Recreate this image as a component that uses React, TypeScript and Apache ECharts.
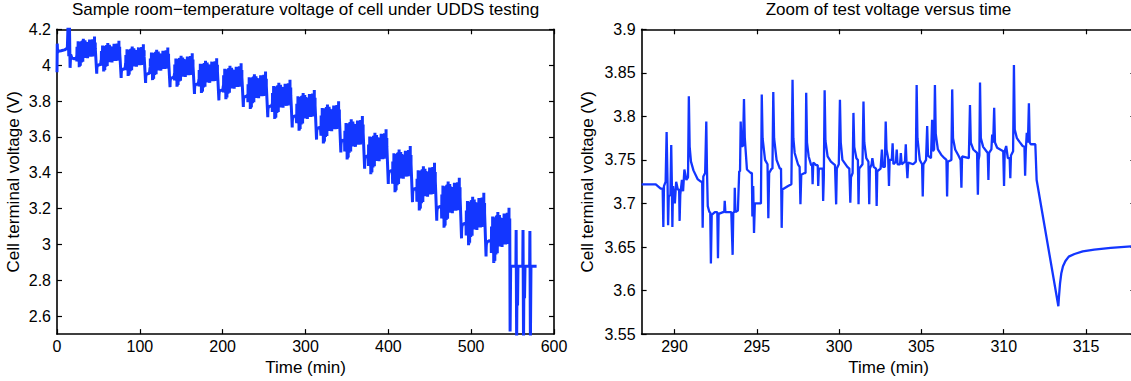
import React, { useEffect, useRef } from "react";
import * as echarts from "echarts";

// ---- Zoomed trace (right panel): one UDDS cycle, [time (min), voltage (V)] ----
const zoomPoints: [number, number][] = [
  [288.0, 3.722], [288.86, 3.722], [289.16, 3.717], [289.28, 3.717], [289.32, 3.673], [289.36, 3.72],
  [289.46, 3.725], [289.52, 3.782], [289.56, 3.74], [289.58, 3.72], [289.61, 3.675], [289.65, 3.708],
  [289.75, 3.71], [289.8, 3.767], [289.84, 3.72], [289.87, 3.673], [289.91, 3.72], [290.02, 3.7],
  [290.1, 3.725], [290.2, 3.716], [290.28, 3.716], [290.31, 3.68], [290.35, 3.71], [290.45, 3.727],
  [290.52, 3.714], [290.6, 3.739], [290.72, 3.727], [290.82, 3.73], [290.87, 3.823], [290.92, 3.765],
  [291.0, 3.748], [291.15, 3.738], [291.4, 3.728], [291.6, 3.725], [291.68, 3.725], [291.71, 3.672],
  [291.75, 3.731], [291.86, 3.735], [291.93, 3.794], [291.97, 3.74], [292.02, 3.697], [292.12, 3.69],
  [292.17, 3.69], [292.21, 3.631], [292.26, 3.687], [292.45, 3.69], [292.6, 3.69], [292.64, 3.637],
  [292.68, 3.688], [292.95, 3.69], [293.02, 3.69], [293.05, 3.703], [293.09, 3.69], [293.45, 3.69],
  [293.53, 3.641], [293.57, 3.69], [293.64, 3.69], [293.66, 3.718], [293.7, 3.69], [293.85, 3.692],
  [293.93, 3.737], [293.98, 3.737], [294.02, 3.794], [294.07, 3.766], [294.16, 3.766], [294.22, 3.82],
  [294.27, 3.775], [294.4, 3.739], [294.63, 3.735], [294.7, 3.735], [294.73, 3.685], [294.78, 3.72],
  [294.83, 3.666], [294.88, 3.7], [295.2, 3.7], [295.25, 3.7], [295.3, 3.825], [295.35, 3.775],
  [295.5, 3.75], [295.65, 3.745], [295.7, 3.683], [295.75, 3.735], [295.9, 3.74], [295.95, 3.74],
  [296.0, 3.828], [296.05, 3.775], [296.2, 3.75], [296.4, 3.74], [296.47, 3.74], [296.51, 3.672],
  [296.55, 3.716], [296.9, 3.72], [297.1, 3.722], [297.17, 3.842], [297.22, 3.775], [297.3, 3.758],
  [297.5, 3.745], [297.6, 3.742], [297.65, 3.699], [297.7, 3.733], [297.9, 3.735], [297.96, 3.735],
  [298.0, 3.827], [298.05, 3.77], [298.15, 3.754], [298.3, 3.744], [298.36, 3.744], [298.39, 3.722],
  [298.43, 3.747], [298.6, 3.744], [298.7, 3.744], [298.73, 3.72], [298.77, 3.74], [298.95, 3.74],
  [299.0, 3.74], [299.03, 3.703], [299.07, 3.73], [299.12, 3.83], [299.17, 3.772], [299.3, 3.754],
  [299.5, 3.748], [299.75, 3.744], [299.82, 3.699], [299.86, 3.74], [299.98, 3.745], [300.05, 3.819],
  [300.1, 3.77], [300.2, 3.75], [300.5, 3.742], [300.62, 3.74], [300.68, 3.701], [300.72, 3.73],
  [300.82, 3.735], [300.87, 3.804], [300.92, 3.765], [301.05, 3.752], [301.14, 3.75], [301.18, 3.699],
  [301.22, 3.74], [301.42, 3.745], [301.48, 3.817], [301.53, 3.77], [301.65, 3.752], [301.78, 3.748],
  [301.83, 3.699], [301.87, 3.74], [301.97, 3.745], [302.02, 3.752], [302.1, 3.742], [302.24, 3.74],
  [302.28, 3.697], [302.32, 3.737], [302.52, 3.74], [302.6, 3.762], [302.66, 3.742], [302.78, 3.742],
  [302.83, 3.794], [302.88, 3.762], [302.98, 3.752], [303.03, 3.72], [303.07, 3.75], [303.2, 3.75],
  [303.25, 3.769], [303.3, 3.745], [303.45, 3.748], [303.5, 3.762], [303.55, 3.745], [303.7, 3.745],
  [303.75, 3.758], [303.8, 3.745], [304.0, 3.748], [304.05, 3.768], [304.1, 3.745], [304.15, 3.729],
  [304.2, 3.747], [304.5, 3.745], [304.66, 3.748], [304.71, 3.836], [304.76, 3.775], [304.9, 3.75],
  [305.04, 3.745], [305.08, 3.708], [305.12, 3.745], [305.28, 3.75], [305.35, 3.789], [305.4, 3.755],
  [305.58, 3.752], [305.65, 3.796], [305.7, 3.76], [305.77, 3.762], [305.82, 3.836], [305.87, 3.78],
  [306.0, 3.762], [306.2, 3.756], [306.4, 3.752], [306.52, 3.75], [306.56, 3.708], [306.6, 3.748],
  [306.82, 3.75], [306.87, 3.831], [306.92, 3.775], [307.05, 3.762], [307.25, 3.755], [307.38, 3.75],
  [307.43, 3.718], [307.47, 3.754], [307.88, 3.752], [307.95, 3.813], [308.0, 3.77], [308.15, 3.762],
  [308.38, 3.758], [308.43, 3.71], [308.47, 3.75], [308.52, 3.755], [308.56, 3.839], [308.61, 3.775],
  [308.75, 3.765], [308.95, 3.76], [309.03, 3.758], [309.07, 3.727], [309.11, 3.758], [309.25, 3.762],
  [309.3, 3.779], [309.36, 3.77], [309.42, 3.81], [309.47, 3.77], [309.6, 3.764], [309.97, 3.76],
  [310.02, 3.72], [310.06, 3.76], [310.15, 3.766], [310.25, 3.752], [310.36, 3.752], [310.4, 3.729],
  [310.44, 3.755], [310.57, 3.76], [310.62, 3.859], [310.67, 3.785], [310.8, 3.775], [310.95, 3.771],
  [311.15, 3.766], [311.26, 3.765], [311.3, 3.732], [311.34, 3.76], [311.4, 3.781], [311.47, 3.77],
  [311.53, 3.815], [311.58, 3.77], [311.64, 3.768], [311.92, 3.768], [312.0, 3.727], [313.32, 3.582],
  [313.36, 3.594], [313.42, 3.608], [313.5, 3.62], [313.6, 3.628], [313.75, 3.634], [313.95, 3.639],
  [314.3, 3.642], [314.8, 3.645], [315.5, 3.647], [316.5, 3.649], [318.0, 3.651],
];
const cycleStartTime = 289.16; // first sample of the zoomed cycle
const cycleEndTime = 311.95; // last sample before the post-cycle drop

// ---- Full test (left panel) ----
const startTime = [0, 0.3, 0.7, 1.5, 5, 9, 12.5, 13.5, 14.2, 15.0, 15.8, 16.5, 18, 21, 23.6];
const startVolt = [3.96, 4.12, 4.07, 4.078, 4.08, 4.085, 4.095, 4.25, 4.05, 4.23, 3.985, 4.06, 4.04, 4.035, 4.04];
// start time of each UDDS cycle, highest voltage reached in it, relative swing vs the zoomed cycle
const blockStart = [23.8, 53.3, 82.8, 112.3, 141.8, 171.3, 200.8, 230.3, 259.8, 289.16, 318.5, 347.2, 375.8, 405.0, 434.3, 464.2, 493.8, 524.2];
const blockTop = [4.16, 4.136, 4.117, 4.099, 4.067, 4.039, 4.011, 3.965, 3.918, 3.862, 3.798, 3.716, 3.642, 3.549, 3.456, 3.372, 3.288, 3.204];
const blockGain = [0.75, 0.75, 0.78, 0.8, 0.82, 0.85, 0.88, 0.92, 0.96, 1.0, 1.03, 1.06, 1.1, 1.13, 1.17, 1.22, 1.28, 1.35];
const tailTime = [547.0, 547.7, 554.0, 554.3, 554.9, 555.5, 556.0, 556.5, 562.3, 562.6, 563.2, 563.8, 564.4, 565.0, 570.6, 570.9, 571.5, 572.2, 579.0];
const tailVolt = [2.515, 2.878, 2.878, 3.08, 2.45, 2.878, 2.66, 2.878, 2.878, 3.08, 2.45, 2.878, 2.7, 2.878, 2.878, 3.075, 2.45, 2.878, 2.878];

// ---- Tick values ----
const leftXTicks = [0, 100, 200, 300, 400, 500, 600];
const leftYTicks = [2.6, 2.8, 3, 3.2, 3.4, 3.6, 3.8, 4, 4.2];
const rightXTicks = [290, 295, 300, 305, 310, 315];
const rightYTicks = [3.55, 3.6, 3.65, 3.7, 3.75, 3.8, 3.85, 3.9];

const titles = ["Sample room\u2212temperature voltage of cell under UDDS testing", "Zoom of test voltage versus time"];
const xName = "Time (min)";
const yName = "Cell terminal voltage (V)";

const FONT = "Liberation Sans";
const LINE = "#1336ff";

function buildFull(): number[][] {
  const pts: number[][] = startTime.map((t, i) => [t, startVolt[i]]);
  const pMax = Math.max(...zoomPoints.map((p) => p[1]));
  blockStart.forEach((s, k) => {
    const last = k === blockStart.length - 1;
    zoomPoints.forEach(([t, v]) => {
      if (t < cycleStartTime) return;
      if (last && t > cycleEndTime) return;
      pts.push([s + (t - cycleStartTime), blockTop[k] + blockGain[k] * (v - pMax)]);
    });
  });
  tailTime.forEach((t, i) => pts.push([t, tailVolt[i]]));
  return pts;
}

function axis(gridIndex: number, min: number, max: number, ticks: number[], labels: boolean, position: string, name?: string, nameGap?: number) {
  return {
    type: "value",
    gridIndex,
    min,
    max,
    position,
    axisLine: { show: true, onZero: false, lineStyle: { color: "#000", width: 1.6 } },
    axisTick: { show: true, inside: true, length: 5, customValues: ticks, lineStyle: { color: "#000", width: 1.2 } },
    axisLabel: {
      show: labels,
      customValues: ticks,
      color: "#000",
      fontFamily: FONT,
      fontSize: 16,
      margin: position === "bottom" ? 4 : 6,
      formatter: (v: number) => String(v),
    },
    splitLine: { show: false },
    name: name ?? "",
    nameLocation: "middle",
    nameGap: nameGap ?? 20,
    nameTextStyle: { color: "#000", fontFamily: FONT, fontSize: 17 },
  };
}

export default function App() {
  const ref = useRef<HTMLDivElement>(null);
  useEffect(() => {
    if (!ref.current) return;
    const chart = echarts.init(ref.current, null, { renderer: "svg" });
    const full = buildFull();
    chart.setOption({
      animation: false,
      backgroundColor: "#fff",
      title: [
        { text: titles[0], left: 305.5, top: 1, padding: 0, textAlign: "center", textStyle: { fontFamily: FONT, fontSize: 17, fontWeight: "normal", color: "#000" } },
        { text: titles[1], left: 888.5, top: 1, padding: 0, textAlign: "center", textStyle: { fontFamily: FONT, fontSize: 17, fontWeight: "normal", color: "#000" } },
      ],
      grid: [
        { left: 57, top: 29.3, width: 497, height: 305.4 },
        { left: 641.6, top: 29.3, width: 493.8, height: 305.7 },
      ],
      xAxis: [
        axis(0, 0, 600, leftXTicks, true, "bottom", xName, 22),
        axis(0, 0, 600, leftXTicks, false, "top"),
        axis(1, 288, 318, rightXTicks, true, "bottom", xName, 22),
        axis(1, 288, 318, rightXTicks, false, "top"),
      ],
      yAxis: [
        axis(0, 2.5, 4.2, leftYTicks, true, "left", yName, 35),
        axis(0, 2.5, 4.2, leftYTicks, false, "right"),
        axis(1, 3.55, 3.9, rightYTicks, true, "left", yName, 46),
        axis(1, 3.55, 3.9, rightYTicks, false, "right"),
      ],
      series: [
        { type: "line", xAxisIndex: 0, yAxisIndex: 0, data: full, showSymbol: false, symbol: "none", clip: true, lineStyle: { color: LINE, width: 3 }, silent: true },
        { type: "line", xAxisIndex: 2, yAxisIndex: 2, data: zoomPoints, showSymbol: false, symbol: "none", clip: true, lineStyle: { color: LINE, width: 2.3 }, silent: true },
      ],
    });
    return () => chart.dispose();
  }, []);
  return (
    <div style={{ position: "fixed", left: 0, top: 0, width: 1131, height: 381, overflow: "hidden", background: "#fff" }}>
      <div ref={ref} style={{ width: 1140, height: 381 }} />
    </div>
  );
}
